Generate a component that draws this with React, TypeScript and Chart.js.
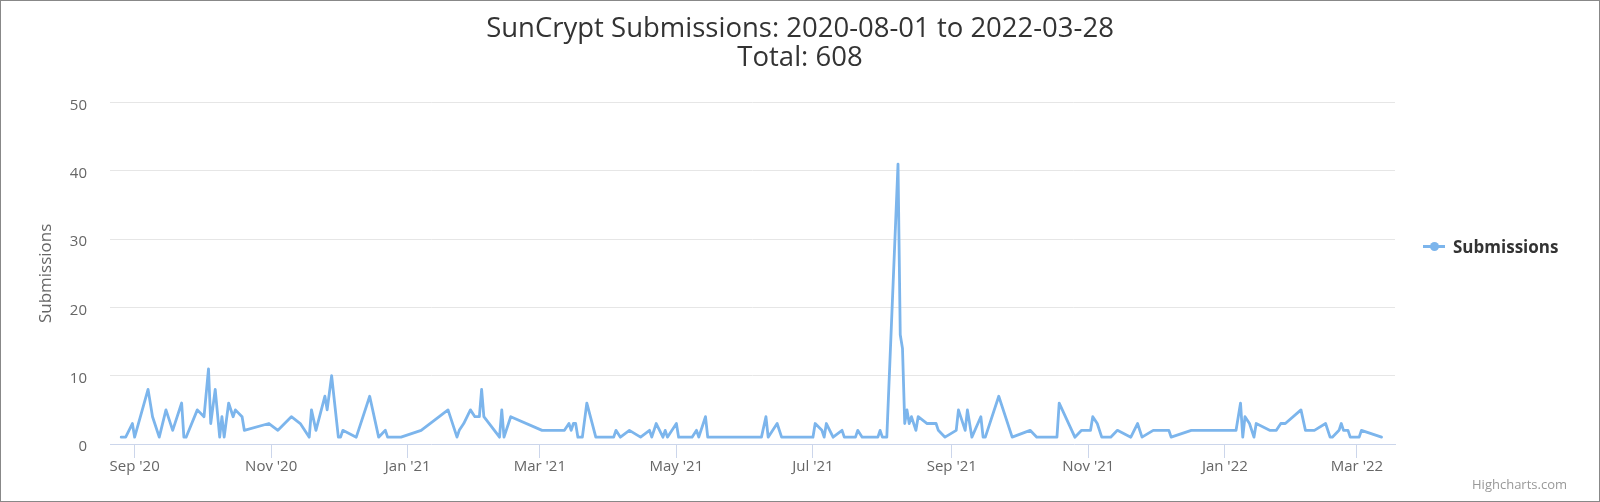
import React, { useEffect, useRef } from 'react';
import { Chart, registerables, Scale } from 'chart.js';

Chart.register(...registerables);

const FONT = '"Open Sans", "Noto Sans", sans-serif';

// chart text
const titleLines = ['SunCrypt Submissions: 2020-08-01 to 2022-03-28', 'Total: 608'];
const seriesName = 'Submissions';
const creditText = 'Highcharts.com';

// daily submissions (days without a visible point are left out)
const submissionDates = [
  '2020-08-26', '2020-08-28', '2020-08-31', '2020-09-01', '2020-09-07', '2020-09-09', '2020-09-12',
  '2020-09-15', '2020-09-18', '2020-09-22', '2020-09-23', '2020-09-24', '2020-09-29', '2020-10-02',
  '2020-10-04', '2020-10-05', '2020-10-07', '2020-10-09', '2020-10-10', '2020-10-11', '2020-10-13',
  '2020-10-15', '2020-10-16', '2020-10-19', '2020-10-20', '2020-10-31', '2020-11-04', '2020-11-10',
  '2020-11-14', '2020-11-18', '2020-11-19', '2020-11-21', '2020-11-25', '2020-11-26', '2020-11-28',
  '2020-12-01', '2020-12-02', '2020-12-03', '2020-12-09', '2020-12-10', '2020-12-15', '2020-12-19',
  '2020-12-22', '2020-12-23', '2020-12-29', '2021-01-07', '2021-01-19', '2021-01-23', '2021-01-24',
  '2021-01-26', '2021-01-29', '2021-01-31', '2021-02-02', '2021-02-03', '2021-02-04', '2021-02-11',
  '2021-02-12', '2021-02-13', '2021-02-16', '2021-03-02', '2021-03-12', '2021-03-14', '2021-03-15',
  '2021-03-16', '2021-03-17', '2021-03-18', '2021-03-20', '2021-03-22', '2021-03-26', '2021-04-03',
  '2021-04-04', '2021-04-06', '2021-04-10', '2021-04-15', '2021-04-19', '2021-04-20', '2021-04-22',
  '2021-04-25', '2021-04-26', '2021-04-27', '2021-05-01', '2021-05-02', '2021-05-08', '2021-05-10',
  '2021-05-11', '2021-05-14', '2021-05-15', '2021-06-08', '2021-06-10', '2021-06-11', '2021-06-15',
  '2021-06-17', '2021-07-01', '2021-07-02', '2021-07-05', '2021-07-06', '2021-07-07', '2021-07-10',
  '2021-07-14', '2021-07-15', '2021-07-20', '2021-07-21', '2021-07-23', '2021-07-30', '2021-07-31',
  '2021-08-01', '2021-08-03', '2021-08-08', '2021-08-09', '2021-08-10', '2021-08-11', '2021-08-12',
  '2021-08-13', '2021-08-14', '2021-08-16', '2021-08-17', '2021-08-21', '2021-08-25', '2021-08-26',
  '2021-08-29', '2021-09-03', '2021-09-04', '2021-09-07', '2021-09-08', '2021-09-10', '2021-09-14',
  '2021-09-15', '2021-09-16', '2021-09-22', '2021-09-28', '2021-10-06', '2021-10-09', '2021-10-18',
  '2021-10-19', '2021-10-26', '2021-10-29', '2021-11-02', '2021-11-03', '2021-11-05', '2021-11-07',
  '2021-11-11', '2021-11-14', '2021-11-20', '2021-11-23', '2021-11-25', '2021-11-30', '2021-12-07',
  '2021-12-08', '2021-12-17', '2022-01-06', '2022-01-08', '2022-01-09', '2022-01-10', '2022-01-12',
  '2022-01-14', '2022-01-15', '2022-01-21', '2022-01-24', '2022-01-26', '2022-01-28', '2022-02-04',
  '2022-02-06', '2022-02-10', '2022-02-15', '2022-02-17', '2022-02-18', '2022-02-21', '2022-02-22',
  '2022-02-23', '2022-02-25', '2022-02-26', '2022-03-02', '2022-03-03', '2022-03-12',
];

const submissionCounts = [
  1, 1, 3, 1, 8, 4, 1,
  5, 2, 6, 1, 1, 5, 4,
  11, 3, 8, 1, 4, 1, 6,
  4, 5, 4, 2, 3, 2, 4,
  3, 1, 5, 2, 7, 5, 10,
  1, 1, 2, 1, 2, 7, 1,
  2, 1, 1, 2, 5, 1, 2,
  3, 5, 4, 4, 8, 4, 1,
  5, 1, 4, 2, 2, 3, 2,
  3, 3, 1, 1, 6, 1, 1,
  2, 1, 2, 1, 2, 1, 3,
  1, 2, 1, 3, 1, 1, 2,
  1, 4, 1, 1, 4, 1, 3,
  1, 1, 3, 2, 1, 3, 1,
  2, 1, 1, 2, 1, 1, 2,
  1, 1, 41, 16, 14, 3, 5,
  3, 4, 2, 4, 3, 3, 2,
  1, 2, 5, 2, 5, 1, 4,
  1, 1, 7, 1, 2, 1, 1,
  6, 1, 2, 2, 4, 3, 1,
  1, 2, 1, 3, 1, 2, 2,
  1, 2, 2, 6, 1, 4, 3,
  1, 3, 2, 2, 3, 3, 5,
  2, 2, 3, 1, 1, 2, 3,
  2, 2, 1, 1, 2, 1,
];

// x axis range and ticks
const axisStart = '2020-08-21';
const axisEnd = '2022-03-18';
const tickDates = [
  '2020-09-01', '2020-11-01', '2021-01-01', '2021-03-01', '2021-05-01',
  '2021-07-01', '2021-09-01', '2021-11-01', '2022-01-01', '2022-03-01',
];
const tickLabels = ["Sep '20", "Nov '20", "Jan '21", "Mar '21", "May '21", "Jul '21", "Sep '21", "Nov '21", "Jan '22", "Mar '22"];
const yTicks = [0, 10, 20, 30, 40, 50];

// 'YYYY-MM-DD' -> whole days since epoch (UTC)
const dayNumber = (s: string) => {
  const [y, m, d] = s.split('-').map(Number);
  return Date.UTC(y, m - 1, d) / 86400000;
};

const TITLE_SIZE = 27.5;

const SubmissionsChart: React.FC = () => {
  const canvasRef = useRef<HTMLCanvasElement>(null);

  useEffect(() => {
    if (!canvasRef.current) return;

    const chart = new Chart(canvasRef.current, {
      type: 'line',
      data: {
        datasets: [
          {
            label: seriesName,
            data: submissionDates.map((d, i) => ({ x: dayNumber(d), y: submissionCounts[i] })),
            borderColor: '#7cb5ec',
            backgroundColor: '#7cb5ec',
            borderWidth: 2.8,
            borderJoinStyle: 'round',
            borderCapStyle: 'round',
            pointRadius: 0,
            pointHoverRadius: 0,
            tension: 0,
            fill: false,
          },
        ],
      },
      options: {
        responsive: false,
        animation: false,
        events: [],
        layout: { padding: 0 },
        plugins: {
          legend: { display: false },
          tooltip: { enabled: false },
          title: {
            display: true,
            text: titleLines,
            color: '#333333',
            font: { family: FONT, size: TITLE_SIZE, weight: 'normal', lineHeight: 29 / TITLE_SIZE },
            padding: { top: 14.8, bottom: 29.9 },
          },
        },
        scales: {
          x: {
            type: 'linear',
            min: dayNumber(axisStart),
            max: dayNumber(axisEnd),
            afterBuildTicks: (scale: Scale) => {
              scale.ticks = tickDates.map((d) => ({ value: dayNumber(d) }));
            },
            afterFit: (scale: Scale) => {
              scale.height = 58;
            },
            ticks: {
              autoSkip: false,
              maxRotation: 0,
              color: '#666666',
              padding: 1,
              font: { family: FONT, size: 15, lineHeight: 1 },
              callback: (value) => tickLabels[tickDates.findIndex((d) => dayNumber(d) === value)],
            },
            grid: { drawOnChartArea: false, drawTicks: true, tickLength: 14, color: '#ccd6eb', lineWidth: 1 },
            border: { display: true, color: '#ccd6eb', width: 1 },
          },
          y: {
            min: 0,
            max: 50,
            afterBuildTicks: (scale: Scale) => {
              scale.ticks = yTicks.map((v) => ({ value: v }));
            },
            afterFit: (scale: Scale) => {
              scale.width = 110;
            },
            ticks: {
              color: '#666666',
              padding: 23,
              labelOffset: 3,
              font: { family: FONT, size: 15 },
            },
            grid: {
              drawTicks: false,
              lineWidth: 1,
              color: (ctx) => (ctx.tick && ctx.tick.value === 0 ? 'rgba(0,0,0,0)' : '#e6e6e6'),
            },
            border: { display: false },
            title: {
              display: true,
              text: seriesName,
              color: '#666666',
              font: { family: FONT, size: 17 },
              padding: { top: 36.3, bottom: 0 },
            },
          },
          // empty right-hand axis that keeps room for the legend
          legendSpace: {
            type: 'linear',
            axis: 'y',
            position: 'right',
            afterFit: (scale: Scale) => {
              scale.width = 205;
            },
            ticks: { display: false },
            grid: { display: false },
            border: { display: false },
          },
        },
      },
    });

    return () => {
      chart.destroy();
    };
  }, []);

  return (
    <div style={{ position: 'fixed', left: 0, top: 0, width: 1600, height: 502, background: '#ffffff' }}>
      <canvas ref={canvasRef} width={1600} height={502} style={{ position: 'absolute', left: 0, top: 0 }} />

      {/* legend */}
      <div
        style={{
          position: 'absolute',
          left: 1423,
          top: 236,
          height: 21,
          display: 'flex',
          alignItems: 'center',
          fontFamily: FONT,
          fontWeight: 'bold',
          fontSize: 17,
          lineHeight: '21px',
          color: '#333333',
          whiteSpace: 'nowrap',
        }}
      >
        <span style={{ position: 'relative', display: 'inline-block', width: 22, height: 21, marginRight: 8 }}>
          <span style={{ position: 'absolute', left: 0, top: 9.1, width: 22, height: 2.8, background: '#7cb5ec' }} />
          <span
            style={{
              position: 'absolute',
              left: 6.5,
              top: 6,
              width: 9,
              height: 9,
              borderRadius: '50%',
              background: '#7cb5ec',
            }}
          />
        </span>
        {seriesName}
      </div>

      {/* credits */}
      <div
        style={{
          position: 'absolute',
          right: 33,
          top: 476,
          fontFamily: FONT,
          fontSize: 13,
          lineHeight: '16px',
          color: '#999999',
          whiteSpace: 'nowrap',
        }}
      >
        {creditText}
      </div>

      {/* outer frame */}
      <div
        style={{
          position: 'absolute',
          inset: 0,
          border: '1px solid #888888',
          boxSizing: 'border-box',
          pointerEvents: 'none',
        }}
      />
    </div>
  );
};

export default function App() {
  return <SubmissionsChart />;
}
